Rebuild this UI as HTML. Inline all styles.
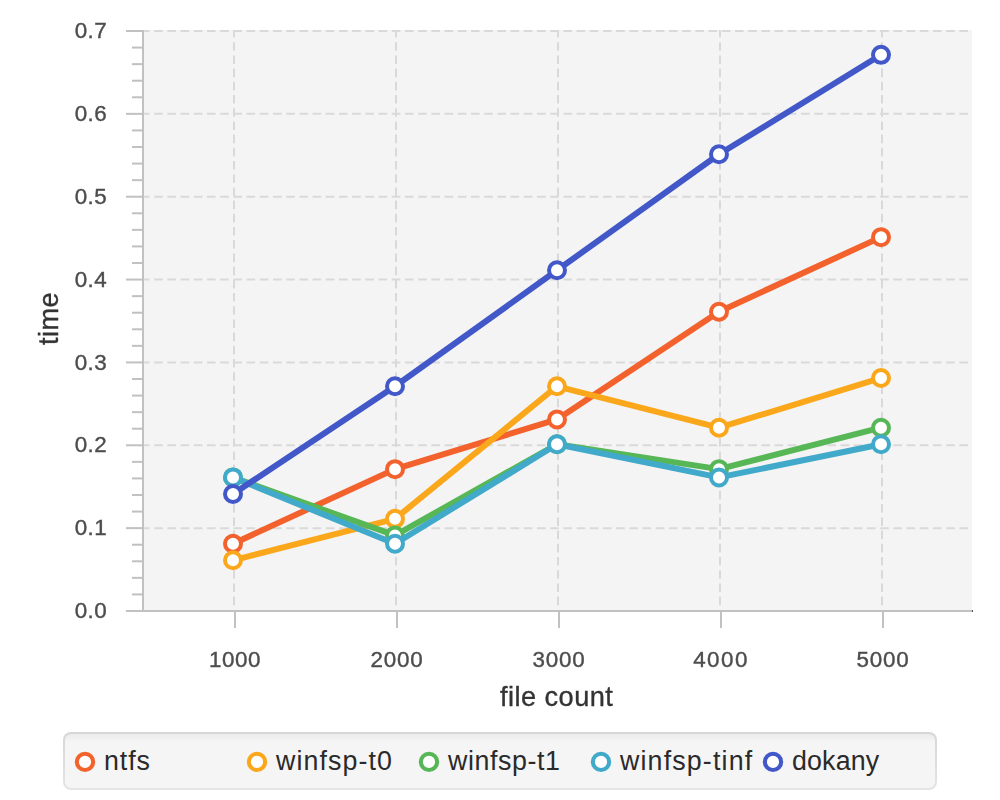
<!DOCTYPE html>
<html><head><meta charset="utf-8"><title>chart</title>
<style>
html,body{margin:0;padding:0;background:#fff;}
body{width:1000px;height:800px;position:relative;overflow:hidden;font-family:"Liberation Sans",sans-serif;}
.t{position:absolute;white-space:nowrap;line-height:1;}
.yt{font-size:22.4px;-webkit-text-stroke:0.4px #4d4d4d;will-change:transform;color:#4d4d4d;text-align:right;width:60px;left:47.2px;letter-spacing:0.4px;}
.xt{font-size:22.4px;-webkit-text-stroke:0.4px #4d4d4d;will-change:transform;color:#4d4d4d;text-align:center;width:80px;letter-spacing:0.65px;}
.al{font-size:27.2px;-webkit-text-stroke:0.35px #333333;will-change:transform;color:#333333;}
.lg{font-size:26.8px;color:#2a2a2a;top:747.9px;}
</style></head><body>
<svg width="1000" height="800" viewBox="0 0 1000 800" style="position:absolute;left:0;top:0">
<defs><clipPath id="pc"><rect x="144" y="30" width="828" height="580"/></clipPath>
<linearGradient id="lgb" x1="0" y1="0" x2="0" y2="1"><stop offset="0" stop-color="#d6d6d6"/><stop offset="1" stop-color="#e4e4e4"/></linearGradient>
<linearGradient id="lgf" gradientUnits="userSpaceOnUse" x1="0" y1="734" x2="0" y2="742"><stop offset="0" stop-color="#ebebeb"/><stop offset="1" stop-color="#f5f5f5"/></linearGradient>
</defs>
<rect x="144" y="30" width="828" height="580" fill="#f4f4f4"/>
<g clip-path="url(#pc)" stroke="#d9d9d9" stroke-width="2" stroke-dasharray="6.6 6.6" stroke-linecap="square" fill="none">
<path d="M234 30V607"/>
<path d="M396 30V607"/>
<path d="M558 30V607"/>
<path d="M720 30V607"/>
<path d="M882 30V607"/>
<path d="M142 31.00H975"/>
<path d="M142 113.86H975"/>
<path d="M142 196.71H975"/>
<path d="M142 279.57H975"/>
<path d="M142 362.43H975"/>
<path d="M142 445.29H975"/>
<path d="M142 528.14H975"/>
<path d="M142 611.00H975"/>
</g>
<g fill="#c1c1c1" shape-rendering="crispEdges">
<rect x="142" y="30" width="2" height="581"/>
<rect x="126" y="610" width="847" height="2"/>
</g>
<g fill="#c1c1c1">
<rect x="126" y="527.14" width="16.5" height="2"/>
<rect x="126" y="444.29" width="16.5" height="2"/>
<rect x="126" y="361.43" width="16.5" height="2"/>
<rect x="126" y="278.57" width="16.5" height="2"/>
<rect x="126" y="195.71" width="16.5" height="2"/>
<rect x="126" y="112.86" width="16.5" height="2"/>
<rect x="126" y="30.00" width="16.5" height="2"/>
<rect x="132" y="593.43" width="10" height="2"/>
<rect x="132" y="576.86" width="10" height="2"/>
<rect x="132" y="560.29" width="10" height="2"/>
<rect x="132" y="543.71" width="10" height="2"/>
<rect x="132" y="510.57" width="10" height="2"/>
<rect x="132" y="494.00" width="10" height="2"/>
<rect x="132" y="477.43" width="10" height="2"/>
<rect x="132" y="460.86" width="10" height="2"/>
<rect x="132" y="427.71" width="10" height="2"/>
<rect x="132" y="411.14" width="10" height="2"/>
<rect x="132" y="394.57" width="10" height="2"/>
<rect x="132" y="378.00" width="10" height="2"/>
<rect x="132" y="344.86" width="10" height="2"/>
<rect x="132" y="328.29" width="10" height="2"/>
<rect x="132" y="311.71" width="10" height="2"/>
<rect x="132" y="295.14" width="10" height="2"/>
<rect x="132" y="262.00" width="10" height="2"/>
<rect x="132" y="245.43" width="10" height="2"/>
<rect x="132" y="228.86" width="10" height="2"/>
<rect x="132" y="212.29" width="10" height="2"/>
<rect x="132" y="179.14" width="10" height="2"/>
<rect x="132" y="162.57" width="10" height="2"/>
<rect x="132" y="146.00" width="10" height="2"/>
<rect x="132" y="129.43" width="10" height="2"/>
<rect x="132" y="96.29" width="10" height="2"/>
<rect x="132" y="79.71" width="10" height="2"/>
<rect x="132" y="63.14" width="10" height="2"/>
<rect x="132" y="46.57" width="10" height="2"/>
</g>
<g fill="#c1c1c1">
<rect x="234" y="612" width="2" height="16"/>
<rect x="396" y="612" width="2" height="16"/>
<rect x="558" y="612" width="2" height="16"/>
<rect x="720" y="612" width="2" height="16"/>
<rect x="882" y="612" width="2" height="16"/>
</g>
<rect x="972" y="610" width="1" height="2" fill="#555"/>
<path d="M233.0 543.71 L395.0 469.14 L557.0 419.43 L719.0 311.71 L881.0 237.14" stroke="#f3622d" stroke-width="6" fill="none" stroke-linejoin="bevel" stroke-linecap="square"/>
<circle cx="233.0" cy="543.71" r="8" fill="#fff" stroke="#f3622d" stroke-width="4"/>
<circle cx="395.0" cy="469.14" r="8" fill="#fff" stroke="#f3622d" stroke-width="4"/>
<circle cx="557.0" cy="419.43" r="8" fill="#fff" stroke="#f3622d" stroke-width="4"/>
<circle cx="719.0" cy="311.71" r="8" fill="#fff" stroke="#f3622d" stroke-width="4"/>
<circle cx="881.0" cy="237.14" r="8" fill="#fff" stroke="#f3622d" stroke-width="4"/>
<path d="M233.0 560.29 L395.0 518.86 L557.0 386.29 L719.0 427.71 L881.0 378.00" stroke="#fba71b" stroke-width="6" fill="none" stroke-linejoin="bevel" stroke-linecap="square"/>
<circle cx="233.0" cy="560.29" r="8" fill="#fff" stroke="#fba71b" stroke-width="4"/>
<circle cx="395.0" cy="518.86" r="8" fill="#fff" stroke="#fba71b" stroke-width="4"/>
<circle cx="557.0" cy="386.29" r="8" fill="#fff" stroke="#fba71b" stroke-width="4"/>
<circle cx="719.0" cy="427.71" r="8" fill="#fff" stroke="#fba71b" stroke-width="4"/>
<circle cx="881.0" cy="378.00" r="8" fill="#fff" stroke="#fba71b" stroke-width="4"/>
<path d="M233.0 477.43 L395.0 535.43 L557.0 444.29 L719.0 469.14 L881.0 427.71" stroke="#57b757" stroke-width="6" fill="none" stroke-linejoin="bevel" stroke-linecap="square"/>
<circle cx="233.0" cy="477.43" r="8" fill="#fff" stroke="#57b757" stroke-width="4"/>
<circle cx="395.0" cy="535.43" r="8" fill="#fff" stroke="#57b757" stroke-width="4"/>
<circle cx="557.0" cy="444.29" r="8" fill="#fff" stroke="#57b757" stroke-width="4"/>
<circle cx="719.0" cy="469.14" r="8" fill="#fff" stroke="#57b757" stroke-width="4"/>
<circle cx="881.0" cy="427.71" r="8" fill="#fff" stroke="#57b757" stroke-width="4"/>
<path d="M233.0 477.43 L395.0 543.71 L557.0 444.29 L719.0 477.43 L881.0 444.29" stroke="#41a9c9" stroke-width="6" fill="none" stroke-linejoin="bevel" stroke-linecap="square"/>
<circle cx="233.0" cy="477.43" r="8" fill="#fff" stroke="#41a9c9" stroke-width="4"/>
<circle cx="395.0" cy="543.71" r="8" fill="#fff" stroke="#41a9c9" stroke-width="4"/>
<circle cx="557.0" cy="444.29" r="8" fill="#fff" stroke="#41a9c9" stroke-width="4"/>
<circle cx="719.0" cy="477.43" r="8" fill="#fff" stroke="#41a9c9" stroke-width="4"/>
<circle cx="881.0" cy="444.29" r="8" fill="#fff" stroke="#41a9c9" stroke-width="4"/>
<path d="M233.0 494.00 L395.0 386.29 L557.0 270.29 L719.0 154.29 L881.0 54.86" stroke="#4258c9" stroke-width="6" fill="none" stroke-linejoin="bevel" stroke-linecap="square"/>
<circle cx="233.0" cy="494.00" r="8" fill="#fff" stroke="#4258c9" stroke-width="4"/>
<circle cx="395.0" cy="386.29" r="8" fill="#fff" stroke="#4258c9" stroke-width="4"/>
<circle cx="557.0" cy="270.29" r="8" fill="#fff" stroke="#4258c9" stroke-width="4"/>
<circle cx="719.0" cy="154.29" r="8" fill="#fff" stroke="#4258c9" stroke-width="4"/>
<circle cx="881.0" cy="54.86" r="8" fill="#fff" stroke="#4258c9" stroke-width="4"/>
<rect x="63" y="732" width="874" height="58" rx="8" fill="url(#lgb)"/>
<rect x="65" y="734" width="870" height="54" rx="6" fill="url(#lgf)"/>
<circle cx="85" cy="761.9" r="8.15" fill="#fff" stroke="#f3622d" stroke-width="4.1"/>
<circle cx="257" cy="761.9" r="8.15" fill="#fff" stroke="#fba71b" stroke-width="4.1"/>
<circle cx="429" cy="761.9" r="8.15" fill="#fff" stroke="#57b757" stroke-width="4.1"/>
<circle cx="601" cy="761.9" r="8.15" fill="#fff" stroke="#41a9c9" stroke-width="4.1"/>
<circle cx="773" cy="761.9" r="8.15" fill="#fff" stroke="#4258c9" stroke-width="4.1"/>
</svg>
<div class="t yt" style="top:599.6px">0.0</div>
<div class="t yt" style="top:516.6px">0.1</div>
<div class="t yt" style="top:433.6px">0.2</div>
<div class="t yt" style="top:351.6px">0.3</div>
<div class="t yt" style="top:268.6px">0.4</div>
<div class="t yt" style="top:185.6px">0.5</div>
<div class="t yt" style="top:102.6px">0.6</div>
<div class="t yt" style="top:19.6px">0.7</div>
<div class="t xt" style="left:194.80px;top:648.7px;letter-spacing:0.6px">1000</div>
<div class="t xt" style="left:356.88px;top:648.7px;letter-spacing:0.75px">2000</div>
<div class="t xt" style="left:518.88px;top:648.7px;letter-spacing:0.75px">3000</div>
<div class="t xt" style="left:681.23px;top:648.7px;letter-spacing:1.45px">4000</div>
<div class="t xt" style="left:842.88px;top:648.7px;letter-spacing:0.75px">5000</div>
<div class="t al" id="xl" style="left:499.8px;top:683.1px;letter-spacing:0.45px">file count</div>
<div class="t al" id="yl" style="left:35.1px;top:345.0px;transform-origin:0 0;transform:rotate(-90deg);letter-spacing:0.45px">time</div>
<div class="t lg" id="lg0" style="left:104px;letter-spacing:0.9px">ntfs</div>
<div class="t lg" id="lg1" style="left:276px;letter-spacing:1.1px">winfsp-t0</div>
<div class="t lg" id="lg2" style="left:448px;letter-spacing:0.6px">winfsp-t1</div>
<div class="t lg" id="lg3" style="left:620px;letter-spacing:1.15px">winfsp-tinf</div>
<div class="t lg" id="lg4" style="left:792px;letter-spacing:0.15px">dokany</div>
</body></html>
